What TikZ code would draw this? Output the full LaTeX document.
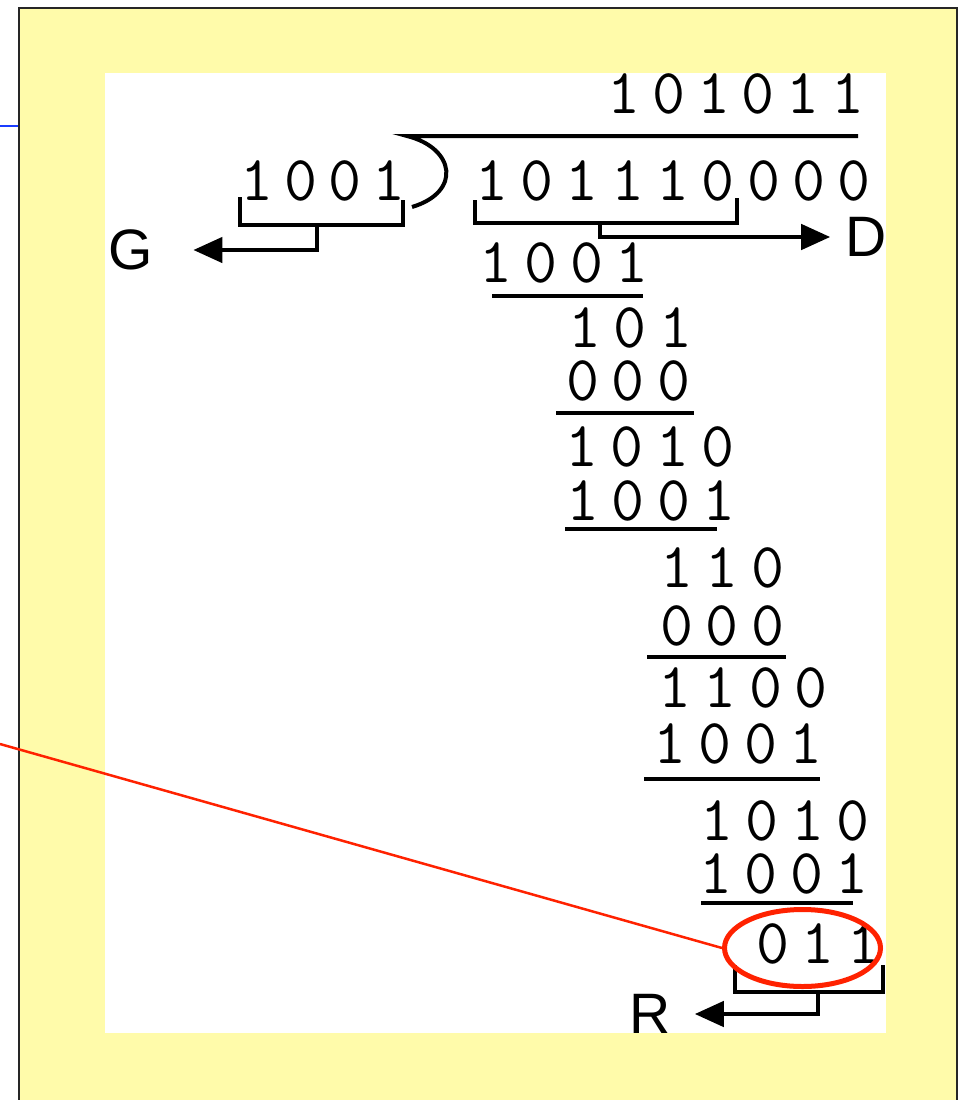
\documentclass[tikz,border=0pt]{standalone}
\usepackage{fontspec}
\usepackage{tikz}
\usetikzlibrary{arrows.meta, shapes.geometric}
\newfontfamily\labelfont{Liberation Sans}
\definecolor{slideyellow}{HTML}{FFFBAA}
\definecolor{markred}{HTML}{FF2200}
\definecolor{linkblue}{HTML}{1A3CFF}
\newcommand{\bitrow}[5][45.3]{%
  \foreach \bv [count=\i from 0] in {#5}
  \node[bit] (#2-\i) at ({#3+#1*\i}, #4) {\bv};}

\begin{document}
\begin{tikzpicture}[x=1pt, y=-1pt,
    bit/.style={font=\ttfamily\fontsize{64}{64}\selectfont, inner sep=0pt, anchor=base},
    lbl/.style={font=\labelfont\fontsize{57}{57}\selectfont, inner sep=0pt},
    rule/.style={line width=4.5pt},
    tip/.style={line width=4.5pt, -{Triangle[length=29pt, width=25pt]}}]
      \useasboundingbox (0,0) rectangle (959,1100);
      \fill[white] (0,0) rectangle (959,1100);

      \coordinate (bl0) at (0,126);
      \coordinate (bl1) at (19,126);
      \draw[linkblue, line width=2pt] (bl0) -- (bl1);
      \draw[fill=slideyellow, draw=black!85, line width=2pt] (19,8) rectangle (957,1112);
      \fill[white] (105,73) rectangle (886,1033);

      \bitrow[44.8]{quo}{624}{113}{1,0,1,0,1,1}
      \bitrow{dvd}{491.7}{200}{1,0,1,1,1,0,0,0,0}
      \bitrow[44]{dvs}{257}{200}{1,0,0,1}
      \bitrow{sa}{496}{282}{1,0,0,1}
      \bitrow{ra}{585}{347}{1,0,1}
      \bitrow{sb}{583}{400}{0,0,0}
      \bitrow{rb}{582}{466}{1,0,1,0}
      \bitrow{sc}{583}{520}{1,0,0,1}
      \bitrow{rc}{677}{587}{1,1,0}
      \bitrow{sd}{677}{645}{0,0,0}
      \bitrow{rd}{675}{707}{1,1,0,0}
      \bitrow{se}{670}{763}{1,0,0,1}
      \bitrow{re}{717}{840}{1,0,1,0}
      \bitrow{sf}{716}{893}{1,0,0,1}
      \bitrow{rf}{773}{963}{0,1,1}

      \draw[rule, line width=4pt] (858,136) -- (407,136)
      .. controls (455,148) and (462,192) .. (412,207);

      \draw[rule] (492,296) -- (643,296);
      \draw[rule] (556,413) -- (694,413);
      \draw[rule] (565,529) -- (717,529);
      \draw[rule] (647,657) -- (786,657);
      \draw[rule] (644,779) -- (820,779);
      \draw[rule] (701,903) -- (853,903);

      \node[lbl] (G) at (131,250) {G};
      \node[lbl] (D) at (866,237) {D};
      \node[lbl] (R) at (650,1014) {R};

      \draw[rule] (240,197) -- (240,225) -- (403,225) -- (403,200);
      \coordinate (gfoot) at (317,225);
      \draw[tip, shorten >=40pt] (gfoot) |- (G);

      \draw[rule] (475,200) -- (475,223) -- (737,223) -- (737,198);
      \coordinate (dfoot) at (600,223);
      \draw[tip, shorten >=15pt] (dfoot) |- (D);

      \draw[rule] (735,965) -- (735,992) -- (883,992) -- (883,965);
      \coordinate (rfoot) at (818,992);
      \draw[tip, shorten >=24pt] (rfoot) |- (R);

      \node[ellipse, draw=markred, line width=5pt, minimum width=156pt,
      minimum height=77pt, inner sep=0pt] (ring) at (802.5,948) {};
      \coordinate (lead) at (0,744);
      \draw[markred, line width=2.5pt] (lead) -- (ring.west);
    \end{tikzpicture}
\end{document}
